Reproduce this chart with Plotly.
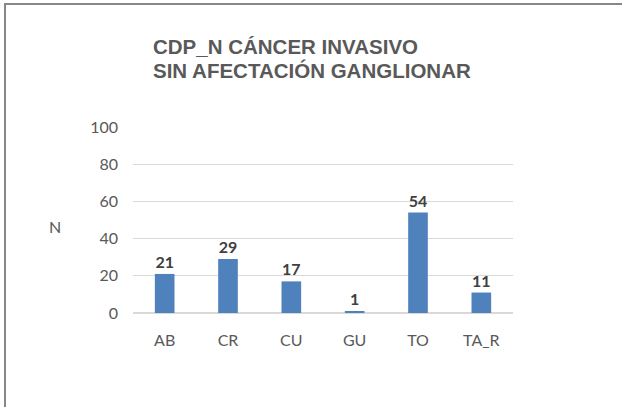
import plotly.graph_objects as go

categories = ["AB", "CR", "CU", "GU", "TO", "TA_R"]
values = [21, 29, 17, 1, 54, 11]
y_ticks = [0, 20, 40, 60, 80, 100]
title_lines = ["CDP_N CÁNCER INVASIVO", "SIN AFECTACIÓN GANGLIONAR"]

W, H = 623, 408
L, R, T, B = 133, 513, 127, 313
pw, ph = R - L, B - T

def px(x):
    return (x - L) / pw

def py(y):
    return (B - y) / ph

fig = go.Figure(go.Bar(
    x=categories, y=values,
    marker=dict(color="#4f81bd", line=dict(width=0)),
    text=[str(v) for v in values], textposition="outside",
    textfont=dict(family="Lato", size=16, color="#404040", weight="bold"),
    cliponaxis=False,
))

title_ann = [
    dict(text="<b>%s</b>" % t, xref="paper", yref="paper", x=px(151), y=py(yy),
         xanchor="left", yanchor="middle", align="left", showarrow=False,
         font=dict(family="Liberation Sans", size=20.5, color="#595959"))
    for t, yy in zip(title_lines, [46.5, 70])
]

border = dict(color="#878787", width=2)

fig.update_layout(
    width=W, height=H,
    margin=dict(l=L, r=W - R, t=T, b=H - B, autoexpand=False),
    paper_bgcolor="white", plot_bgcolor="white",
    bargap=0.69,
    showlegend=False,
    xaxis=dict(showgrid=False, showline=False, zeroline=False, fixedrange=True,
               tickfont=dict(family="Lato", size=16, color="#595959"),
               ticks="", ticklabelstandoff=16),
    yaxis=dict(range=[0, 100], tickvals=y_ticks, showgrid=True, fixedrange=True,
               gridcolor="#d9d9d9", gridwidth=1, zeroline=True,
               zerolinecolor="#d9d9d9", zerolinewidth=1.5, showline=False,
               tickfont=dict(family="Lato", size=16, color="#595959"),
               ticks="", ticklabelstandoff=14),
    annotations=title_ann + [
        dict(text="N", xref="paper", yref="paper", x=px(55), y=py(226),
             xanchor="center", yanchor="middle", showarrow=False,
             font=dict(family="Lato", size=16, color="#595959")),
    ],
    shapes=[
        dict(type="line", xref="paper", yref="paper",
             x0=px(5), x1=px(622), y0=py(4), y1=py(4), line=border),
        dict(type="line", xref="paper", yref="paper",
             x0=px(5), x1=px(5), y0=py(407), y1=py(3), line=border),
    ],
)

fig.write_html("out.html", config={"displayModeBar": False},
               post_script="document.body.style.margin='0';document.body.style.overflow='hidden';")
